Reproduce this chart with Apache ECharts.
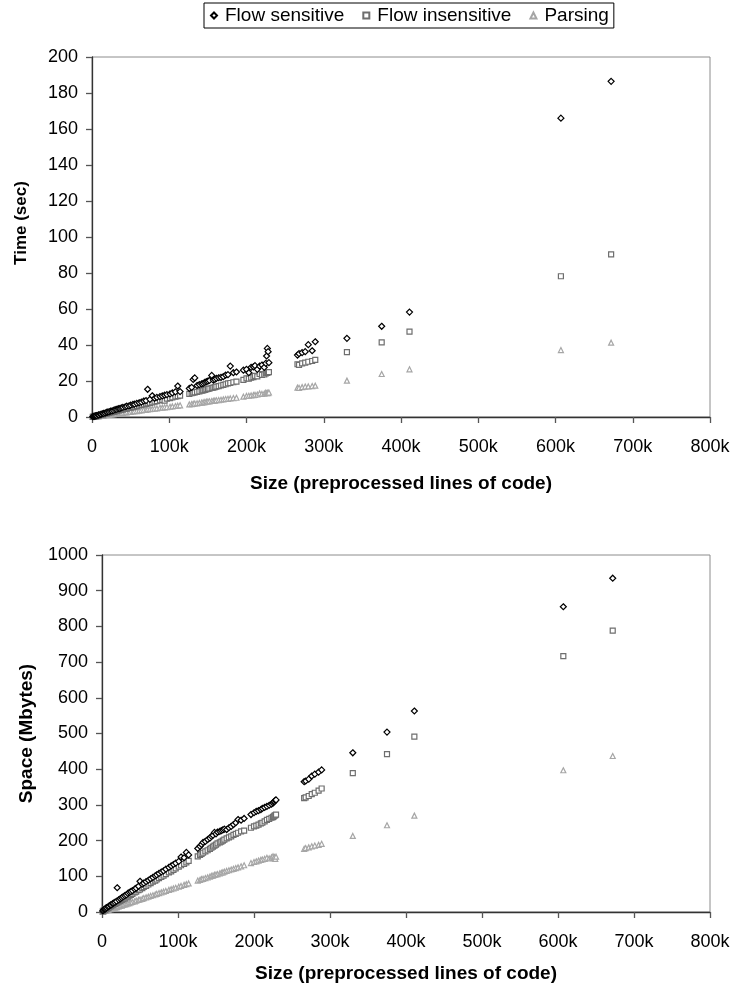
<!DOCTYPE html>
<html>
<head>
<meta charset="utf-8">
<title>Time and space vs size</title>
<script src="https://cdn.jsdelivr.net/npm/echarts@6/dist/echarts.min.js"></script>
<style>
  html, body { margin: 0; padding: 0; background: #fff; }
  #chart { width: 735px; height: 989px; }
</style>
</head>
<body>
<div id="chart"></div>
<script>
// program sizes, thousands of preprocessed lines
const sizeKloc = [
  1, 2, 3, 4, 5, 6, 8, 9, 11, 12, 14, 15, 17, 19, 20, 22, 24, 26, 28, 30,
  32, 34, 36, 38, 40, 43, 45, 48, 50, 53, 55, 58, 61, 64, 67, 70, 72, 75, 78, 81,
  84, 88, 91, 94, 97, 101, 104, 108, 111, 114,
  126, 129, 131, 133, 136, 139, 142, 144, 146, 148, 150, 152, 155, 157, 159, 161, 164, 167, 170, 173,
  176, 179, 183, 187,
  196, 200, 203, 206, 209, 211, 214, 217, 220, 223, 225, 226, 227, 228, 229,
  266, 268, 272, 276, 280, 285, 289,
  330, 375, 411, 607, 672,
];

// time (sec)
const timeFlowSens = [
  0.2, 0.3, 0.4, 0.5, 0.7, 0.8, 1.0, 1.2, 1.4, 1.6, 1.8, 2.0, 2.2, 2.6, 2.7, 2.9, 3.3, 3.4, 3.7, 4.1,
  4.2, 4.6, 4.7, 5.1, 5.3, 5.6, 6.0, 6.2, 6.6, 7.0, 7.1, 7.6, 7.9, 8.3, 8.9, 9.1, 15.4, 9.8, 11.8, 10.4,
  10.9, 11.3, 11.7, 12.1, 12.4, 12.8, 13.4, 14.0, 17.2, 14.1,
  15.9, 16.5, 20.9, 21.7, 17.5, 18.0, 18.4, 18.7, 19.2, 19.6, 19.9, 20.3, 23.1, 20.5, 20.9, 21.5, 21.8, 22.0, 22.4, 23.3,
  23.5, 28.3, 24.6, 25.0,
  26.0, 26.5, 24.6, 27.6, 27.9, 28.5, 26.5, 28.3, 28.9, 27.6, 29.8, 33.9, 38.1, 36.3, 30.2,
  34.4, 35.2, 35.8, 36.3, 40.2, 36.8, 41.8,
  43.7, 50.4, 58.3, 166, 186.5,
];
const timeFlowInsens = [
  0.1, 0.2, 0.3, 0.4, 0.5, 0.6, 0.8, 0.9, 1.1, 1.3, 1.4, 1.6, 1.8, 2.0, 2.1, 2.3, 2.5, 2.7, 2.9, 3.1,
  3.3, 3.6, 3.8, 3.9, 4.2, 4.5, 4.7, 5.0, 5.2, 5.5, 5.8, 6.0, 6.4, 6.7, 7.0, 7.3, 7.6, 7.9, 8.1, 8.5,
  8.8, 9.2, 9.5, 9.1, 10.2, 10.5, 10.9, 11.3, 11.6, 11.9,
  12.8, 13.2, 13.5, 13.7, 14.0, 14.2, 14.6, 14.8, 15.1, 15.3, 15.6, 15.8, 16.1, 16.3, 16.6, 16.9, 17.2, 17.5, 17.8, 18.2,
  18.7, 18.9, 19.3, 19.6,
  20.6, 21.5, 21.3, 21.9, 22.2, 22.8, 22.6, 23.9, 23.4, 23.6, 24.2, 24.8, 24.5, 25.0, 24.9,
  29.3, 29.0, 29.8, 30.2, 30.7, 31.1, 31.7,
  36.0, 41.5, 47.4, 78.2, 90.4,
];
const timeParsing = [
  0.1, 0.1, 0.2, 0.2, 0.3, 0.3, 0.4, 0.5, 0.6, 0.7, 0.8, 0.9, 1.0, 1.1, 1.2, 1.3, 1.4, 1.5, 1.6, 1.7,
  1.8, 2.0, 2.1, 2.2, 2.3, 2.5, 2.6, 2.8, 2.9, 3.1, 3.2, 3.3, 3.5, 3.7, 3.9, 4.0, 4.2, 4.3, 4.5, 4.7,
  4.8, 5.1, 5.2, 5.4, 5.5, 5.7, 5.9, 6.1, 6.3, 6.5,
  7.0, 7.2, 7.3, 7.5, 7.6, 7.8, 8.0, 8.1, 8.3, 8.5, 8.6, 8.7, 8.9, 9.0, 9.1, 9.3, 9.4, 9.6, 9.8, 10.0,
  10.1, 10.3, 10.5, 10.7,
  11.3, 11.7, 11.8, 12.0, 12.2, 12.3, 12.5, 13.1, 12.8, 13.0, 13.5, 13.2, 13.4, 13.3, 13.6,
  16.3, 16.2, 16.6, 16.9, 17.0, 17.2, 17.4,
  20.2, 23.9, 26.5, 37.2, 41.3,
];

// space (Mbytes)
const spaceFlowSens = [
  3, 5, 7, 8, 10, 12, 14, 16, 19, 20, 23, 25, 27, 30, 68, 34, 37, 40, 43, 46,
  48, 52, 55, 57, 60, 64, 67, 72, 86, 78, 81, 85, 89, 93, 97, 101, 104, 108, 112, 115,
  120, 125, 129, 133, 137, 142, 154, 152, 167, 160,
  178, 184, 189, 195, 198, 203, 207, 212, 215, 223, 219, 224, 226, 228, 230, 232, 231, 236, 240, 245,
  250, 259, 257, 262,
  273, 278, 282, 284, 287, 290, 293, 296, 299, 302, 305, 308, 310, 313, 314,
  365, 367, 372, 381, 386, 392, 398,
  446, 504, 563, 855, 935,
];
const spaceFlowInsens = [
  2, 4, 5, 6, 8, 9, 11, 13, 15, 17, 19, 21, 23, 25, 27, 29, 31, 34, 36, 38,
  41, 43, 46, 48, 51, 55, 57, 61, 63, 67, 70, 73, 77, 81, 85, 88, 91, 95, 98, 102,
  106, 111, 114, 118, 122, 127, 131, 135, 139, 143,
  156, 160, 163, 166, 170, 173, 177, 180, 183, 186, 189, 192, 195, 197, 200, 203, 206, 209, 212, 216,
  219, 222, 226, 228,
  236, 240, 242, 245, 248, 250, 254, 258, 261, 264, 266, 268, 270, 271, 273,
  319, 321, 325, 330, 334, 340, 346,
  389, 442, 491, 717, 788,
];
const spaceParsing = [
  1, 2, 3, 3, 4, 5, 6, 7, 8, 9, 10, 11, 12, 13, 14, 16, 17, 18, 20, 21,
  22, 24, 25, 27, 28, 30, 32, 34, 35, 37, 39, 41, 43, 45, 47, 49, 51, 53, 55, 57,
  59, 62, 64, 66, 68, 71, 73, 76, 78, 80,
  88, 90, 92, 93, 95, 97, 99, 101, 102, 104, 105, 106, 108, 110, 111, 113, 115, 117, 119, 121,
  123, 125, 128, 131,
  137, 140, 142, 144, 146, 147, 149, 152, 150, 153, 156, 151, 154, 149, 155,
  177, 179, 181, 184, 186, 188, 191,
  213, 243, 270, 397, 437,
];

const seriesNames = ['Flow sensitive', 'Flow insensitive', 'Parsing'];

const FONT = '"Liberation Sans", Arial, sans-serif';
const marks = [
  { symbol: 'diamond', size: 6, border: '#000000' },
  { symbol: 'rect', size: 5, border: '#6e6e6e' },
  { symbol: 'triangle', size: 5, border: '#a6a6a6' },
];

const pairs = (ys) => sizeKloc.map((x, i) => [x, ys[i]]);

function scatter(name, ys, idx) {
  const m = marks[seriesNames.indexOf(name)];
  return {
    name,
    type: 'scatter',
    xAxisIndex: idx,
    yAxisIndex: idx,
    data: pairs(ys),
    symbol: m.symbol,
    symbolSize: m.size,
    itemStyle: { color: '#ffffff', borderColor: m.border, borderWidth: 1.2, opacity: 1 },
    emphasis: { disabled: true },
  };
}

function xAxis(idx, gap) {
  return {
    type: 'value',
    gridIndex: idx,
    min: 0,
    max: 800,
    interval: 100,
    name: 'Size (preprocessed lines of code)',
    nameLocation: 'middle',
    nameGap: gap,
    nameTextStyle: { fontFamily: FONT, fontSize: 19, fontWeight: 'bold', color: '#000' },
    axisLine: { onZero: false, lineStyle: { color: '#333', width: 1.3 } },
    axisTick: { length: 6, lineStyle: { color: '#555', width: 1.3 } },
    axisLabel: {
      margin: 21, fontFamily: FONT, fontSize: 18, color: '#000',
      formatter: (v) => (v === 0 ? '0' : v + 'k'),
    },
    splitLine: { show: false },
  };
}

function yAxis(idx, name, max, interval, opts) {
  return {
    type: 'value',
    gridIndex: idx,
    min: 0,
    max,
    interval,
    name,
    nameLocation: 'middle',
    nameGap: opts.gap,
    nameTextStyle: {
      fontFamily: FONT, fontSize: opts.size, fontWeight: 'bold', color: '#000',
      padding: [0, 0, 0, opts.shift],
    },
    axisLine: { lineStyle: { color: '#333', width: 1.3 } },
    axisTick: { length: 6, lineStyle: { color: '#555', width: 1.3 } },
    axisLabel: { margin: 14, fontFamily: FONT, fontSize: 18, color: '#000', formatter: (v) => String(v) },
    splitLine: { show: false },
  };
}

const chart = echarts.init(document.getElementById('chart'), null, { renderer: 'canvas' });
chart.setOption({
  animation: false,
  backgroundColor: '#ffffff',
  legend: {
    data: seriesNames,
    left: 204,
    top: 3,
    padding: [3, 5, 3, 6],
    itemGap: 18,
    itemWidth: 6,
    itemHeight: 6,
    borderColor: '#000',
    borderWidth: 1,
    textStyle: { fontFamily: FONT, fontSize: 19, color: '#000', padding: [0, 0, 0, 3] },
  },
  grid: [
    { left: 92, top: 57, width: 618, height: 360, show: true, borderColor: '#8c8c8c', borderWidth: 1 },
    { left: 102, top: 555, width: 608, height: 357, show: true, borderColor: '#8c8c8c', borderWidth: 1 },
  ],
  xAxis: [xAxis(0, 57), xAxis(1, 52)],
  yAxis: [
    yAxis(0, 'Time (sec)', 200, 20, { gap: 62, size: 17, shift: 28 }),
    yAxis(1, 'Space (Mbytes)', 1000, 100, { gap: 66, size: 19, shift: 0 }),
  ],
  series: [
    scatter('Parsing', timeParsing, 0),
    scatter('Flow insensitive', timeFlowInsens, 0),
    scatter('Flow sensitive', timeFlowSens, 0),
    scatter('Parsing', spaceParsing, 1),
    scatter('Flow insensitive', spaceFlowInsens, 1),
    scatter('Flow sensitive', spaceFlowSens, 1),
  ],
});
</script>
</body>
</html>
